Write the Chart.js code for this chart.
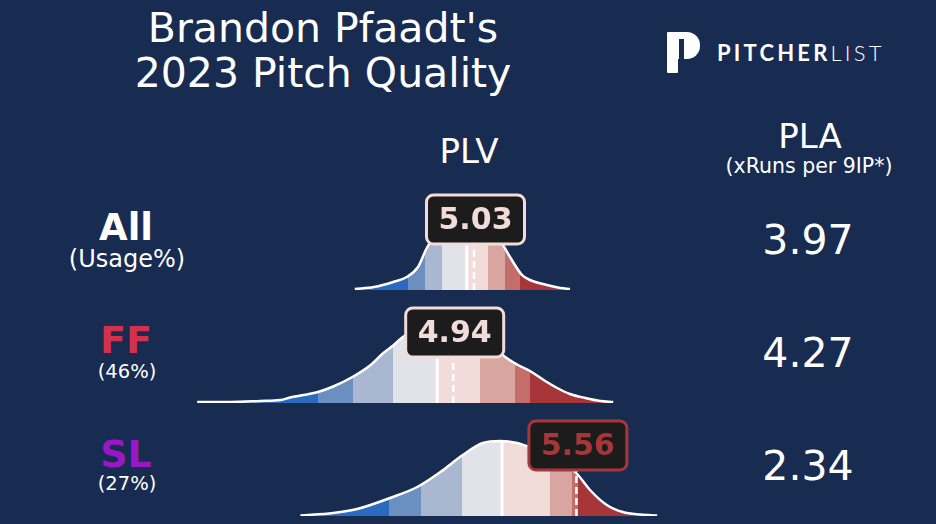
<!DOCTYPE html>
<html>
<head>
<meta charset="utf-8">
<script src="https://cdn.jsdelivr.net/npm/chart.js@4.4.0/dist/chart.umd.min.js"></script>
<style>
  html, body { margin: 0; padding: 0; }
  body { width: 936px; height: 524px; background: #182b50; position: relative; overflow: hidden;
         font-family: "DejaVu Sans", sans-serif; color: #fff; }
  .t { position: absolute; white-space: nowrap; line-height: 1; transform: translateX(-50%); }
  canvas { position: absolute; left: 190px; }
  .logo-stem { position: absolute; left: 667px; top: 32px; width: 11px; height: 41px; background: #fff; border-radius: 1px; }
  .logo-bowl { position: absolute; left: 672px; top: 32px; width: 28px; height: 27px; background: #fff; border-radius: 2px 13px 13px 0; }
  .logo-hole { position: absolute; left: 679px; top: 39px; width: 5px; height: 20px; background: #182b50; }
  .logo-txt { position: absolute; left: 717px; top: 42px; font-family: Lato, "Open Sans", sans-serif; font-size: 22px; line-height: 1; letter-spacing: 3.2px; white-space: nowrap; }
</style>
</head>
<body>

<div class="t" style="left:323px;top:8px;font-size:41px">Brandon Pfaadt's</div>
<div class="t" style="left:323px;top:53px;font-size:41px">2023 Pitch Quality</div>

<div class="logo-stem"></div><div class="logo-bowl"></div><div class="logo-hole"></div>
<div class="logo-txt"><b style="font-weight:700">PITCHER</b><span style="font-weight:300">LIST</span></div>

<div class="t" style="left:469px;top:134px;font-size:34px">PLV</div>
<div class="t" style="left:810px;top:119px;font-size:34px">PLA</div>
<div class="t" style="left:809px;top:156px;font-size:20.5px">(xRuns per 9IP*)</div>

<canvas id="grafico0" width="480" height="113"></canvas>
<canvas id="grafico1" width="480" height="113"></canvas>
<canvas id="grafico2" width="480" height="113"></canvas>

<script>
// ---- DADOS ----
const arremessos = ["All", "FF", "SL"];
const uso = ["(Usage%)", "(46%)", "(27%)"];
const plv = [5.03, 4.94, 5.56];
const pla = [3.97, 4.27, 2.34];

// faixa do eixo x (PLV) de cada curva
const eixoMin = [1.48, 1.65, 0.73];
const eixoMax = [7.48, 7.65, 6.73];

// curvas de densidade
const allX = [3.54, 3.78, 4.02, 4.19, 4.33, 4.44, 4.56, 4.73, 4.92, 5.11, 5.29, 5.39, 5.48, 5.63, 5.73, 5.94, 6.11, 6.23];
const allY = [0.01, 0.03, 0.08, 0.13, 0.23, 0.42, 0.55, 0.62, 0.64, 0.61, 0.52, 0.45, 0.33, 0.15, 0.10, 0.05, 0.02, 0.01];

const ffX = [1.74, 2.15, 2.53, 2.78, 2.90, 3.25, 3.44, 3.68, 3.90, 4.06, 4.19, 4.31, 4.59, 4.78, 4.96, 5.15, 5.40, 5.59, 5.75, 5.90, 6.09, 6.24, 6.40, 6.59, 6.78, 6.94];
const ffY = [0.01, 0.01, 0.02, 0.03, 0.055, 0.11, 0.165, 0.26, 0.375, 0.495, 0.575, 0.66, 0.76, 0.78, 0.77, 0.72, 0.60, 0.46, 0.38, 0.32, 0.22, 0.15, 0.09, 0.05, 0.02, 0.01];

const slX = [2.11, 2.52, 2.82, 3.23, 3.57, 3.86, 4.14, 4.39, 4.61, 4.82, 4.94, 5.11, 5.29, 5.44, 5.57, 5.73, 5.94, 6.14, 6.36, 6.57];
const slY = [0.005, 0.03, 0.07, 0.18, 0.29, 0.44, 0.61, 0.73, 0.75, 0.73, 0.70, 0.66, 0.58, 0.51, 0.42, 0.26, 0.11, 0.04, 0.015, 0.005];

// limites das faixas de cor
const allBandas = [4.21, 4.42, 4.63, 4.94, 5.21, 5.42, 5.61];
const ffBandas = [3.25, 3.69, 4.19, 4.74, 5.28, 5.71, 5.90];
const slBandas = [3.22, 3.62, 4.13, 4.63, 5.23, 5.51, 5.58];

// linha da mediana (posicao e altura da curva)
const medianaX = [4.94, 4.74, 4.63];
const medianaY = [0.64, 0.78, 0.75];

const coresBandas = ["#2a6ac0", "#6b8fc0", "#a9b8d0", "#e2e3e9", "#f2dcda", "#d9a5a1", "#c46e6b", "#a7363b"];
const coresArremesso = ["#ffffff", "#d3314b", "#9a17c8"];
const coresCaixa = ["#f2dcda", "#f2dcda", "#a7363b"];

const curvasX = [allX, ffX, slX];
const curvasY = [allY, ffY, slY];
const bandas = [allBandas, ffBandas, slBandas];

// ---- LAYOUT ----
const linhaBase = [290, 402.5, 515.5];
const topoNome = [209, 321, 435];
const tamNome = [37, 38, 38];
const topoUso = [247, 361.5, 473.5];
const tamUso = [24, 19.5, 19.5];
const topoPla = [220, 333, 446];

function addTexto(txt, left, top, size, cor, bold) {
  const d = document.createElement("div");
  d.className = "t";
  d.textContent = txt;
  d.style.left = left + "px";
  d.style.top = top + "px";
  d.style.fontSize = size + "px";
  d.style.color = cor;
  if (bold) d.style.fontWeight = "bold";
  document.body.appendChild(d);
}

arremessos.forEach((a, i) => {
  addTexto(a, 126, topoNome[i], tamNome[i], coresArremesso[i], true);
  addTexto(uso[i], 127, topoUso[i], tamUso[i], "#ffffff", false);
  addTexto(pla[i].toFixed(2), 808, topoPla[i], 41, "#ffffff", false);
});

// ---- GRADIENTE DAS FAIXAS ----
function gradienteBandas(chart, limitesBandas, xmin, xmax) {
  const area = chart.chartArea;
  const sx = chart.scales.x;
  if (!area || !sx) return "rgba(0,0,0,0)";
  const w = area.right - area.left;
  const g = chart.ctx.createLinearGradient(area.left, 0, area.right, 0);
  const lim = [xmin, ...limitesBandas, xmax];
  const pos = v => Math.max(0, Math.min(1, (sx.getPixelForValue(v) - area.left) / w));
  coresBandas.forEach((cor, i) => {
    g.addColorStop(pos(lim[i]), cor);
    g.addColorStop(pos(lim[i + 1]), cor);
  });
  return g;
}

// ---- CAIXA DO VALOR PLV ----
const caixaValor = {
  id: "caixaValor",
  afterDatasetsDraw(chart, args, opts) {
    const { ctx, scales: { x, y } } = chart;
    const cx = x.getPixelForValue(opts.valor) + 1.5;
    const base = y.getPixelForValue(0.46);
    const w = 98, h = 49;
    ctx.save();
    ctx.beginPath();
    ctx.roundRect(cx - w / 2, base - h, w, h, 7);
    ctx.fillStyle = "#1c1c1c";
    ctx.fill();
    ctx.lineWidth = 3;
    ctx.strokeStyle = opts.cor;
    ctx.stroke();
    ctx.fillStyle = opts.cor;
    ctx.font = "bold 30px 'DejaVu Sans'";
    ctx.textAlign = "center";
    ctx.textBaseline = "alphabetic";
    ctx.fillText(opts.valor.toFixed(2), cx, base - h / 2 + 9);
    ctx.restore();
  }
};

// ---- GRAFICOS ----
arremessos.forEach((a, i) => {
  const cv = document.getElementById("grafico" + i);
  cv.style.top = (linhaBase[i] - 110) + "px";
  const pontos = curvasX[i].map((x, k) => ({ x: x, y: curvasY[i][k] }));

  new Chart(cv, {
    type: "line",
    data: {
      datasets: [
        {
          data: [{ x: plv[i], y: 0 }, { x: plv[i], y: 0.5 }],
          borderColor: "#ffffff",
          borderWidth: 2.5,
          borderDash: [7, 4],
          pointRadius: 0,
          fill: false
        },
        {
          data: [{ x: medianaX[i], y: 0 }, { x: medianaX[i], y: medianaY[i] }],
          borderColor: "#ffffff",
          borderWidth: 3,
          pointRadius: 0,
          fill: false
        },
        {
          data: pontos,
          borderColor: "#ffffff",
          borderWidth: 2.5,
          pointRadius: 0,
          cubicInterpolationMode: "monotone",
          fill: "origin",
          backgroundColor: ctx => gradienteBandas(ctx.chart, bandas[i], eixoMin[i], eixoMax[i])
        }
      ]
    },
    options: {
      responsive: false,
      animation: false,
      layout: { padding: { top: 0, bottom: 3, left: 0, right: 0 } },
      plugins: {
        legend: { display: false },
        tooltip: { enabled: false },
        caixaValor: { valor: plv[i], cor: coresCaixa[i] }
      },
      scales: {
        x: { type: "linear", min: eixoMin[i], max: eixoMax[i], display: false },
        y: { min: 0, max: 1.1, display: false }
      }
    },
    plugins: [caixaValor]
  });
});
</script>
</body>
</html>
